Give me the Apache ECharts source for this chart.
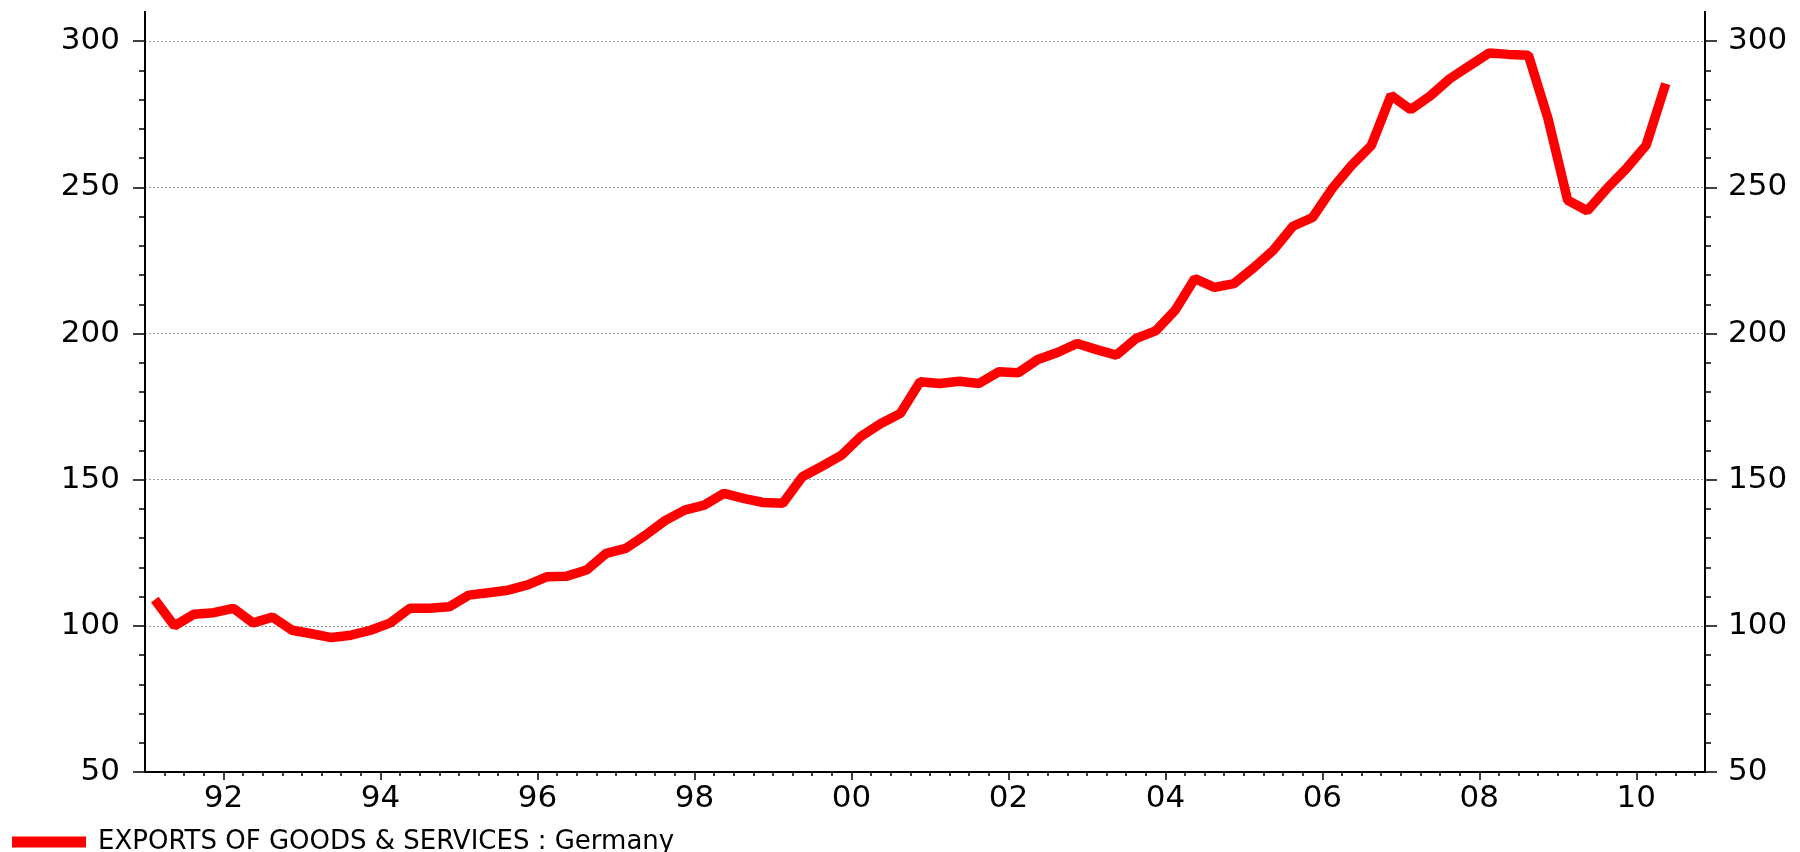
<!DOCTYPE html>
<html>
<head>
<meta charset="utf-8">
<script src="https://cdn.jsdelivr.net/npm/echarts@6/dist/echarts.min.js"></script>
<style>
  html, body { margin: 0; padding: 0; background: #fff; }
  #chart { width: 1800px; height: 852px; }
</style>
</head>
<body>
<div id="chart"></div>
<script>
// quarterly data, starting 1991 Q1
const startYear = 1991
const seriesName = 'EXPORTS OF GOODS & SERVICES : Germany'
const exportsGermany = [
  109, 100, 104, 104.5, 106, 101, 103, 98.5,
  97.3, 96, 96.8, 98.5, 101, 106, 106, 106.5,
  110.5, 111.3, 112.2, 114, 116.8, 117, 119.1, 124.8,
  126.5, 131, 136, 139.6, 141.3, 145.3, 143.6, 142.2,
  141.9, 151, 154.6, 158.4, 164.9, 169.2, 172.7, 183.5,
  182.9, 183.7, 182.9, 186.9, 186.6, 191.1, 193.5, 196.6,
  194.5, 192.6, 198.3, 200.9, 208, 218.8, 215.8, 217.1,
  222.5, 228.5, 236.7, 239.7, 249.6, 257.6, 264.4, 281.5,
  276.6, 281.3, 287.2, 291.6, 296, 295.5, 295.2, 273.5,
  245.6, 242, 249.6, 256.5, 264.4, 285.5
]
const yearLabels = [1992, 1994, 1996, 1998, 2000, 2002, 2004, 2006, 2008, 2010]
const valueLabels = [50, 100, 150, 200, 250, 300]
const valueMinor = [60, 70, 80, 90, 110, 120, 130, 140, 160, 170, 180, 190,
  210, 220, 230, 240, 260, 270, 280, 290]

const xMin = 1991
const xMax = 2010.875
const yMin = 50
const yMax = 310
const font = 'DejaVu Sans'

// quarter boundaries for the small ticks
let quarterTicks = []
for (let q = 1; q < (xMax - xMin) * 4; q++) {
  quarterTicks.push(xMin + q * 0.25)
}

// each point sits in the middle of its quarter
let points = exportsGermany.map(function (v, i) {
  return [startYear + i * 0.25 + 0.125, v]
})

let myChart = echarts.init(document.getElementById('chart'))

let axisLineStyle = { color: '#000', width: 2 }

let option = {
  animation: false,
  backgroundColor: '#fff',
  grid: { left: 145, right: 95, top: 12, bottom: 80 },
  legend: {
    left: 7,
    top: 824,
    icon: 'rect',
    itemWidth: 74,
    itemHeight: 11,
    data: [seriesName],
    textStyle: { fontFamily: font, fontSize: 26, color: '#000', padding: [0, 0, 0, 7] }
  },
  xAxis: [
    {
      type: 'value',
      min: xMin,
      max: xMax,
      axisLine: { lineStyle: axisLineStyle },
      axisTick: { customValues: yearLabels, length: 8, lineStyle: { color: '#000', width: 1.5 } },
      axisLabel: {
        customValues: yearLabels,
        margin: 11,
        fontFamily: font,
        fontSize: 31,
        color: '#000',
        formatter: function (v) { return String(v).slice(2) }
      },
      splitLine: { show: false }
    },
    {
      type: 'value',
      min: xMin,
      max: xMax,
      position: 'bottom',
      axisLine: { lineStyle: axisLineStyle },
      axisTick: { customValues: quarterTicks, length: 4, lineStyle: { color: '#000', width: 1.5 } },
      axisLabel: { show: false },
      splitLine: { show: false }
    }
  ],
  yAxis: [
    {
      type: 'value',
      position: 'left',
      min: yMin,
      max: yMax,
      axisLine: { show: true, lineStyle: axisLineStyle },
      axisTick: { show: true, customValues: valueLabels, length: 12, lineStyle: { color: '#000', width: 1.5 } },
      axisLabel: { customValues: valueLabels, margin: 25, fontFamily: font, fontSize: 31, color: '#000' },
      splitLine: { show: true, lineStyle: { color: '#a0a0a0', width: 1, type: [2, 2] } }
    },
    {
      type: 'value',
      position: 'left',
      min: yMin,
      max: yMax,
      axisLine: { show: true, lineStyle: axisLineStyle },
      axisTick: { show: true, customValues: valueMinor, length: 6, lineStyle: { color: '#000', width: 1.5 } },
      axisLabel: { show: false },
      splitLine: { show: false }
    },
    {
      type: 'value',
      position: 'right',
      min: yMin,
      max: yMax,
      axisLine: { show: true, lineStyle: axisLineStyle },
      axisTick: { show: true, customValues: valueLabels, length: 12, lineStyle: { color: '#000', width: 1.5 } },
      axisLabel: { customValues: valueLabels, margin: 23, fontFamily: font, fontSize: 31, color: '#000' },
      splitLine: { show: false }
    },
    {
      type: 'value',
      position: 'right',
      min: yMin,
      max: yMax,
      axisLine: { show: true, lineStyle: axisLineStyle },
      axisTick: { show: true, customValues: valueMinor, length: 6, lineStyle: { color: '#000', width: 1.5 } },
      axisLabel: { show: false },
      splitLine: { show: false }
    }
  ],
  series: [
    {
      name: seriesName,
      type: 'line',
      data: points,
      showSymbol: false,
      color: '#ff0000',
      lineStyle: { width: 9.5, color: '#ff0000' },
      z: 5
    }
  ]
}
myChart.setOption(option)
</script>
</body>
</html>
